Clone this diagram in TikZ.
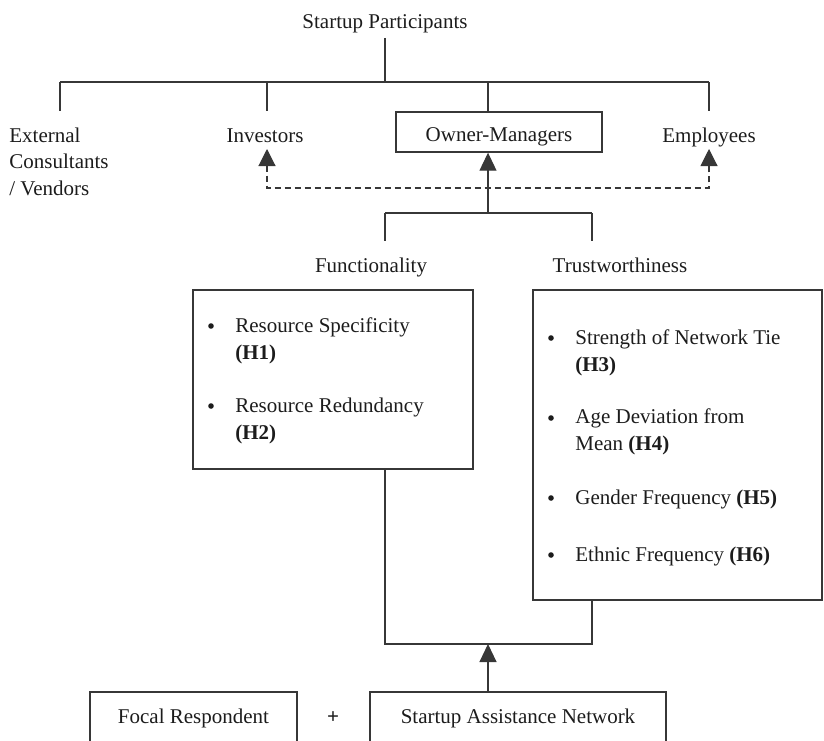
\documentclass[tikz,border=0pt]{standalone}
\usepackage{fontspec}
\setmainfont{Liberation Serif}
\usetikzlibrary{positioning,arrows.meta}
\definecolor{ink}{RGB}{28,28,28}
\definecolor{rule}{RGB}{55,55,55}
\tikzset{
  lbl/.style={inner sep=0pt, font=\fontsize{10.5}{13.25}\selectfont, text=ink},
  lst/.style={lbl, align=left, anchor=base west},
  dot/.style={circle, fill=ink, inner sep=0pt, minimum size=2.8pt},
  box/.style={draw=rule, line width=0.7pt, inner sep=0pt,
    font=\fontsize{10.5}{13.25}\selectfont, text=ink},
  wire/.style={draw=rule, line width=0.55pt},
  up/.style={wire, -{Triangle[length=9pt,width=8.5pt]}},
  dup/.style={wire, dash pattern=on 3pt off 2pt,
    {Triangle[length=8.5pt,width=8.5pt]}-{Triangle[length=8.5pt,width=8.5pt]}},
}

\begin{document}
\begin{tikzpicture}[x=0.5pt, y=-0.5pt]
  \useasboundingbox (0,0) rectangle (824,740);
  \clip (0,0) rectangle (824,740);
  % participants
  \node[lbl, anchor=base, inner ysep=2.5pt] (sp) at (385,28) {Startup Participants};
  \node[lst] (ext) at (9,195) {External\\Consultants\\/ Vendors};
  \node[lbl, anchor=base] (inv) at (265,142) {Investors};
  \node[box, minimum width=103pt, minimum height=20pt, text height=9pt, text depth=0pt] (om) at (499,132) {Owner-Managers};
  \node[lbl, anchor=base] (emp) at (709,142) {Employees};
  \coordinate (hub) at (385,82);
  \coordinate (jx) at (60,82);
  \coordinate (ji) at (267,82);
  \coordinate (jo) at (488,82);
  \coordinate (je) at (709,82);
  \draw[wire] (sp) -- (hub);
  \draw[wire] (jx) -- (je);
  \foreach \j in {jx,ji,jo,je}
    \draw[wire] (\j) -- (\j |- om.north);
  \coordinate (ti) at (267,149);
  \coordinate (te) at (709,149);
  \coordinate (dl) at (488,188);
  \draw[dup] (ti) -- (ti |- dl) -- (te |- dl) -- (te);
  % two dimensions
  \coordinate (fm) at (488,213);
  \coordinate (fl) at (385,213);
  \coordinate (fr) at (592,213);
  \draw[up] (fm) -- (fm |- om.south);
  \node[lbl, anchor=base, inner ysep=8pt] (fun) at (371,272) {Functionality};
  \node[lbl, anchor=base, inner ysep=8pt] (tru) at (620,272) {Trustworthiness};
  \draw[wire] (fl) -- (fr);
  \draw[wire] (fl) -- (fl |- fun.north);
  \draw[wire] (fr) -- (fr |- tru.north);
  \node[box, minimum width=140pt, minimum height=89.5pt] (fbox) at (333,379.5) {};
  \node[box, minimum width=144.5pt, minimum height=155pt] (tbox) at (677.5,445) {};
  \node[lst] (h1) at (235,359) {Resource Specificity\\\textbf{(H1)}};
  \node[lst] (h2) at (235,439) {Resource Redundancy\\\textbf{(H2)}};
  \node[lst] (h3) at (575,371) {Strength of Network Tie\\\textbf{(H3)}};
  \node[lst] (h4) at (575,450) {Age Deviation from\\Mean \textbf{(H4)}};
  \node[lst] (h5) at (575,504) {Gender Frequency \textbf{(H5)}};
  \node[lst] (h6) at (575,561) {Ethnic Frequency \textbf{(H6)}};
  \foreach \y in {326,406}
    \node[dot] (bf\y) at (211,\y) {};
  \foreach \y in {338,418,498,555}
    \node[dot] (bt\y) at (551,\y) {};
  % respondent and network
  \node[box, minimum width=103.5pt, minimum height=26pt] (foc) at (193.5,718) {Focal Respondent};
  \node[lbl, anchor=base] (plus) at (333,723) {\textbf{+}};
  \node[box, minimum width=148pt, minimum height=26pt] (san) at (518,718) {Startup Assistance Network};
  \coordinate (bl) at (385,644);
  \coordinate (br) at (592,644);
  \coordinate (bm) at (488,644);
  \draw[wire] (fbox.south -| bl) -- (bl) -- (br) -- (br |- tbox.south);
  \draw[up] (san.north -| bm) -- (bm);
\end{tikzpicture}
\end{document}
